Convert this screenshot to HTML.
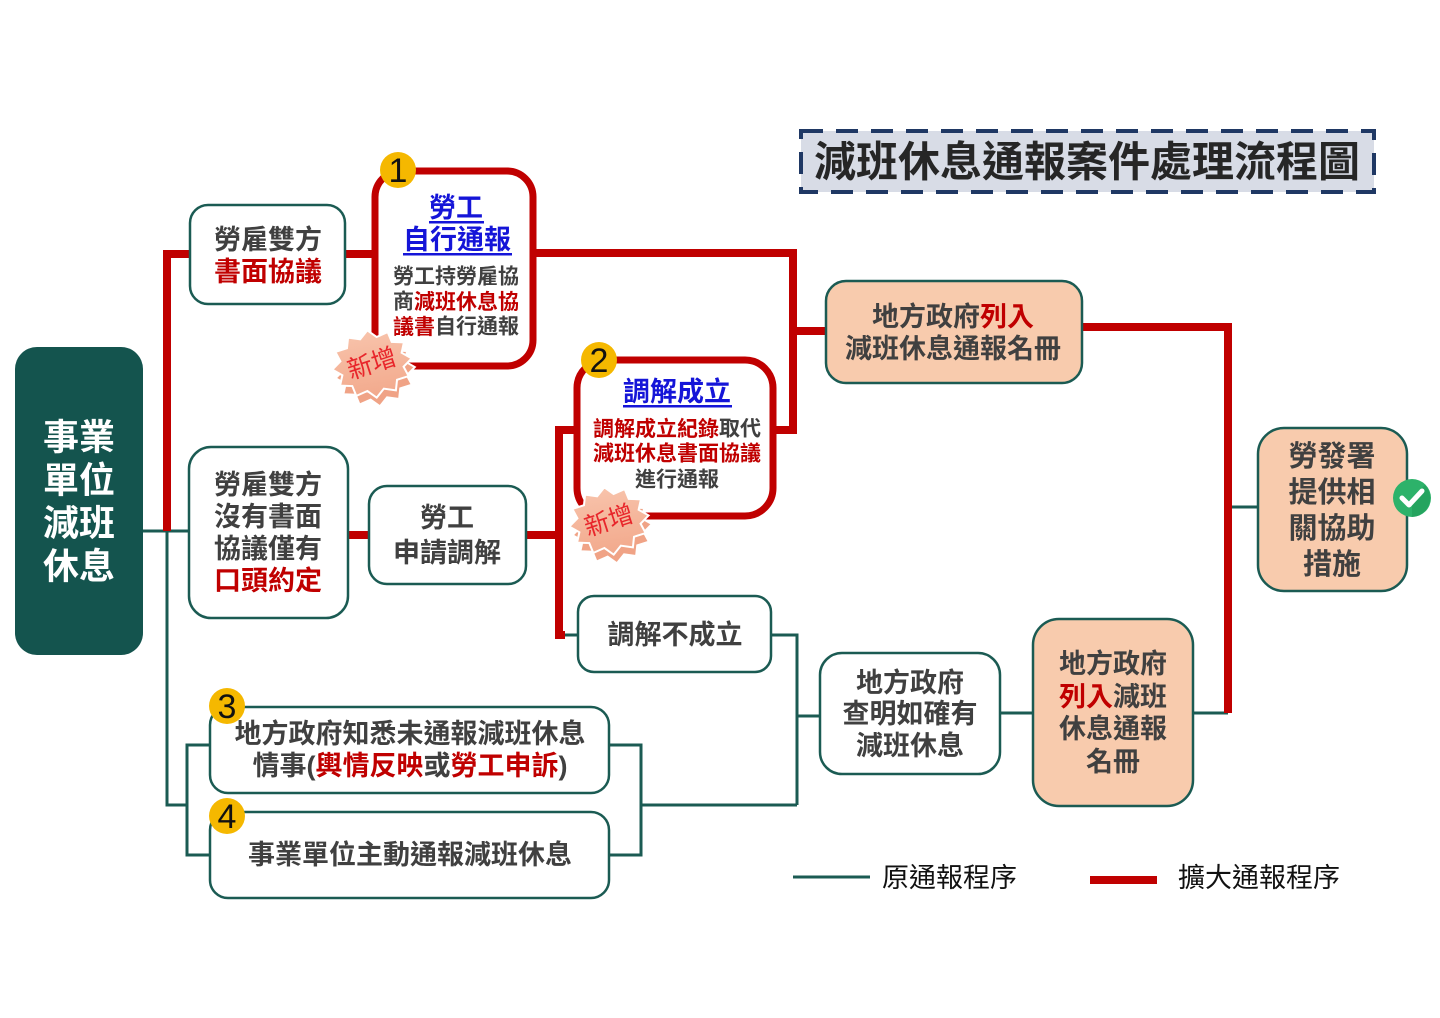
<!DOCTYPE html>
<html>
<head>
<meta charset="utf-8">
<style>
html,body{margin:0;padding:0;background:#fff;}
svg{display:block;}
text{font-family:"Liberation Sans","Noto Sans CJK TC","Noto Sans CJK JP",sans-serif;}
.b{font-weight:700;fill:#404040;}
.r{fill:#c00000;}
.bl{fill:#1515d8;}
</style>
</head>
<body>
<svg width="1440" height="1018" viewBox="0 0 1440 1018" xmlns="http://www.w3.org/2000/svg">
<defs>
<linearGradient id="sb" x1="0" y1="0" x2="0" y2="1">
<stop offset="0" stop-color="#f8c3ab"/>
<stop offset="1" stop-color="#f2a98c"/>
</linearGradient>
</defs>
<rect width="1440" height="1018" fill="#fff"/>

<!-- Title -->
<rect x="801" y="131" width="573" height="61" fill="#d8dce6" stroke="#1f3864" stroke-width="4" stroke-dasharray="22 13"/>
<text x="1087" y="162" font-size="42" font-weight="700" fill="#262626" text-anchor="middle" dominant-baseline="central">減班休息通報案件處理流程圖</text>

<!-- Teal connectors -->
<g fill="none" stroke="#1b5b53" stroke-width="3">
<polyline points="143,531 189,531"/>
<polyline points="167,531 167,805 187,805"/>
<polyline points="210,745 187,745 187,855 210,855"/>
<polyline points="609,745 641,745 641,855 609,855"/>
<polyline points="641,805 797,805"/>
<polyline points="563,635 578,635"/>
<polyline points="771,635 797,635 797,805"/>
<polyline points="797,716 820,716"/>
<polyline points="1000,713 1033,713"/>
<polyline points="1193,713 1228,713"/>
<polyline points="1228,507 1258,507"/>
</g>

<!-- Red connectors -->
<g fill="none" stroke="#c00000" stroke-width="8">
<polyline points="189,254 167,254 167,531"/>
<polyline points="345,254 372,254"/>
<polyline points="536,253 793,253 793,430 775,430"/>
<polyline points="793,331 826,331"/>
<polyline points="348,535 369,535"/>
<polyline points="526,535 559,535"/>
<polyline points="574,430 559,430 559,635 565,635"/>
<polyline points="1082,327 1228,327 1228,713"/>
</g>

<!-- Left main box -->
<rect x="15" y="347" width="128" height="308" rx="22" fill="#14544e"/>
<g font-size="36" font-weight="700" fill="#fff" text-anchor="middle" dominant-baseline="central">
<text x="79" y="437" dominant-baseline="central">事業</text>
<text x="79" y="480" dominant-baseline="central">單位</text>
<text x="79" y="523" dominant-baseline="central">減班</text>
<text x="79" y="566" dominant-baseline="central">休息</text>
</g>

<!-- Box A -->
<rect x="190" y="205" width="155" height="99" rx="18" fill="#fff" stroke="#1b5b53" stroke-width="2.5"/>
<text class="b" x="268" y="240" font-size="27" text-anchor="middle" dominant-baseline="central">勞雇雙方</text>
<text class="b r" x="268" y="272" font-size="27" text-anchor="middle" dominant-baseline="central">書面協議</text>

<!-- Box 1 (red) -->
<rect x="375" y="171" width="158" height="195" rx="26" fill="#fff" stroke="#c00000" stroke-width="7"/>
<text class="b bl" x="456" y="208" font-size="27" text-anchor="middle" dominant-baseline="central">勞工</text>
<rect x="429" y="221" width="55" height="2.5" fill="#1515d8"/>
<text class="b bl" x="457" y="240" font-size="27" text-anchor="middle" dominant-baseline="central">自行通報</text>
<rect x="403" y="253" width="109" height="2.5" fill="#1515d8"/>
<text class="b" x="456" y="277" font-size="21" text-anchor="middle" dominant-baseline="central">勞工持勞雇協</text>
<text class="b" x="456" y="302" font-size="21" text-anchor="middle" dominant-baseline="central">商<tspan fill="#c00000">減班休息協</tspan></text>
<text class="b" x="456" y="327" font-size="21" text-anchor="middle" dominant-baseline="central"><tspan fill="#c00000">議書</tspan>自行通報</text>
<circle cx="398" cy="170" r="18" fill="#f5b800"/>
<text x="398" y="171" font-size="34" fill="#111" text-anchor="middle" dominant-baseline="central">1</text>

<!-- Starburst 1 -->
<g transform="translate(372,364) rotate(-8)">
<polygon transform="translate(2,9)" points="40,0 30.9,7 34.6,17 22.6,19.1 20,29.4 8.3,26.1 0,34 -8.3,26.1 -20,29.4 -22.6,19.1 -34.6,17 -30.9,7 -40,0 -30.9,-7 -34.6,-17 -22.6,-19.1 -20,-29.4 -8.3,-26.1 0,-34 8.3,-26.1 20,-29.4 22.6,-19.1 34.6,-17 30.9,-7" fill="#f0a386" stroke="#fff" stroke-width="2"/>
<polygon points="40,0 30.9,7 34.6,17 22.6,19.1 20,29.4 8.3,26.1 0,34 -8.3,26.1 -20,29.4 -22.6,19.1 -34.6,17 -30.9,7 -40,0 -30.9,-7 -34.6,-17 -22.6,-19.1 -20,-29.4 -8.3,-26.1 0,-34 8.3,-26.1 20,-29.4 22.6,-19.1 34.6,-17 30.9,-7" fill="url(#sb)" stroke="#fff" stroke-width="2"/>
<text x="0" y="0" font-size="25" fill="#e8262b" text-anchor="middle" dominant-baseline="central" transform="rotate(-10)">新增</text>
</g>

<!-- Box B -->
<rect x="189" y="447" width="159" height="171" rx="22" fill="#fff" stroke="#1b5b53" stroke-width="2.5"/>
<text class="b" x="268" y="485" font-size="27" text-anchor="middle" dominant-baseline="central">勞雇雙方</text>
<text class="b" x="268" y="517" font-size="27" text-anchor="middle" dominant-baseline="central">沒有書面</text>
<text class="b" x="268" y="549" font-size="27" text-anchor="middle" dominant-baseline="central">協議僅有</text>
<text class="b r" x="268" y="581" font-size="27" text-anchor="middle" dominant-baseline="central">口頭約定</text>

<!-- Box C -->
<rect x="369" y="486" width="157" height="98" rx="18" fill="#fff" stroke="#1b5b53" stroke-width="2.5"/>
<text class="b" x="447" y="518" font-size="27" text-anchor="middle" dominant-baseline="central">勞工</text>
<text class="b" x="447" y="553" font-size="27" text-anchor="middle" dominant-baseline="central">申請調解</text>

<!-- Box 2 (red) -->
<rect x="577" y="360" width="196" height="156" rx="28" fill="#fff" stroke="#c00000" stroke-width="7"/>
<text class="b bl" x="677" y="392" font-size="27" text-anchor="middle" dominant-baseline="central">調解成立</text>
<rect x="623" y="405" width="109" height="2.5" fill="#1515d8"/>
<text class="b" x="677" y="429" font-size="21" text-anchor="middle" dominant-baseline="central"><tspan fill="#c00000">調解成立紀錄</tspan>取代</text>
<text class="b r" x="677" y="454" font-size="21" text-anchor="middle" dominant-baseline="central">減班休息書面協議</text>
<text class="b" x="677" y="480" font-size="21" text-anchor="middle" dominant-baseline="central">進行通報</text>
<circle cx="599" cy="360" r="18" fill="#f5b800"/>
<text x="599" y="361" font-size="34" fill="#111" text-anchor="middle" dominant-baseline="central">2</text>

<!-- Starburst 2 -->
<g transform="translate(609,521) rotate(-8)">
<polygon transform="translate(2,9)" points="40,0 30.9,7 34.6,17 22.6,19.1 20,29.4 8.3,26.1 0,34 -8.3,26.1 -20,29.4 -22.6,19.1 -34.6,17 -30.9,7 -40,0 -30.9,-7 -34.6,-17 -22.6,-19.1 -20,-29.4 -8.3,-26.1 0,-34 8.3,-26.1 20,-29.4 22.6,-19.1 34.6,-17 30.9,-7" fill="#f0a386" stroke="#fff" stroke-width="2"/>
<polygon points="40,0 30.9,7 34.6,17 22.6,19.1 20,29.4 8.3,26.1 0,34 -8.3,26.1 -20,29.4 -22.6,19.1 -34.6,17 -30.9,7 -40,0 -30.9,-7 -34.6,-17 -22.6,-19.1 -20,-29.4 -8.3,-26.1 0,-34 8.3,-26.1 20,-29.4 22.6,-19.1 34.6,-17 30.9,-7" fill="url(#sb)" stroke="#fff" stroke-width="2"/>
<text x="0" y="0" font-size="25" fill="#e8262b" text-anchor="middle" dominant-baseline="central" transform="rotate(-10)">新增</text>
</g>

<!-- Box D -->
<rect x="578" y="596" width="193" height="76" rx="16" fill="#fff" stroke="#1b5b53" stroke-width="2.5"/>
<text class="b" x="675" y="635" font-size="27" text-anchor="middle" dominant-baseline="central">調解不成立</text>

<!-- Box 3 -->
<rect x="210" y="707" width="399" height="86" rx="18" fill="#fff" stroke="#1b5b53" stroke-width="2.5"/>
<text class="b" x="410" y="734" font-size="27" text-anchor="middle" dominant-baseline="central">地方政府知悉未通報減班休息</text>
<text class="b" x="410" y="766" font-size="27" text-anchor="middle" dominant-baseline="central">情事(<tspan fill="#c00000">輿情反映</tspan>或<tspan fill="#c00000">勞工申訴</tspan>)</text>
<circle cx="227" cy="706" r="18" fill="#f5b800"/>
<text x="227" y="707" font-size="34" fill="#111" text-anchor="middle" dominant-baseline="central">3</text>

<!-- Box 4 -->
<rect x="210" y="812" width="399" height="86" rx="18" fill="#fff" stroke="#1b5b53" stroke-width="2.5"/>
<text class="b" x="410" y="855" font-size="27" text-anchor="middle" dominant-baseline="central">事業單位主動通報減班休息</text>
<circle cx="227" cy="816" r="18" fill="#f5b800"/>
<text x="227" y="817" font-size="34" fill="#111" text-anchor="middle" dominant-baseline="central">4</text>

<!-- Box G -->
<rect x="826" y="281" width="256" height="102" rx="20" fill="#f8cbad" stroke="#1b5b53" stroke-width="2.5"/>
<text class="b" x="953" y="317" font-size="27" text-anchor="middle" dominant-baseline="central" fill="#333">地方政府<tspan fill="#c00000">列入</tspan></text>
<text class="b" x="953" y="349" font-size="27" text-anchor="middle" dominant-baseline="central">減班休息通報名冊</text>

<!-- Box E -->
<rect x="820" y="653" width="180" height="121" rx="22" fill="#fff" stroke="#1b5b53" stroke-width="2.5"/>
<text class="b" x="910" y="683" font-size="27" text-anchor="middle" dominant-baseline="central">地方政府</text>
<text class="b" x="910" y="714" font-size="27" text-anchor="middle" dominant-baseline="central">查明如確有</text>
<text class="b" x="910" y="746" font-size="27" text-anchor="middle" dominant-baseline="central">減班休息</text>

<!-- Box F -->
<rect x="1033" y="619" width="160" height="187" rx="26" fill="#f8cbad" stroke="#1b5b53" stroke-width="2.5"/>
<text class="b" x="1113" y="664" font-size="27" text-anchor="middle" dominant-baseline="central" fill="#333">地方政府</text>
<text class="b" x="1113" y="697" font-size="27" text-anchor="middle" dominant-baseline="central"><tspan fill="#c00000">列入</tspan>減班</text>
<text class="b" x="1113" y="729" font-size="27" text-anchor="middle" dominant-baseline="central">休息通報</text>
<text class="b" x="1113" y="762" font-size="27" text-anchor="middle" dominant-baseline="central">名冊</text>

<!-- Box H -->
<rect x="1258" y="428" width="149" height="163" rx="26" fill="#f8cbad" stroke="#1b5b53" stroke-width="2.5"/>
<text class="b" x="1332" y="457" font-size="29" text-anchor="middle" dominant-baseline="central">勞發署</text>
<text class="b" x="1332" y="493" font-size="29" text-anchor="middle" dominant-baseline="central">提供相</text>
<text class="b" x="1332" y="529" font-size="29" text-anchor="middle" dominant-baseline="central">關協助</text>
<text class="b" x="1332" y="565" font-size="29" text-anchor="middle" dominant-baseline="central">措施</text>

<!-- Check icon -->
<circle cx="1412" cy="498" r="19" fill="#2db26a"/>
<path d="M1412,498 L1425,485 A19,19 0 0 1 1412,517 Z" fill="#1f9b58" opacity="0.6"/>
<polyline points="1402,498 1409,505 1422,491" fill="none" stroke="#fff" stroke-width="5" stroke-linecap="round" stroke-linejoin="round"/>

<!-- Legend -->
<line x1="793" y1="877" x2="870" y2="877" stroke="#1b5b53" stroke-width="3"/>
<text x="882" y="878" font-size="27" fill="#111" dominant-baseline="central">原通報程序</text>
<line x1="1090" y1="880" x2="1157" y2="880" stroke="#c00000" stroke-width="8"/>
<text x="1178" y="878" font-size="27" fill="#111" dominant-baseline="central">擴大通報程序</text>
</svg>
</body>
</html>
